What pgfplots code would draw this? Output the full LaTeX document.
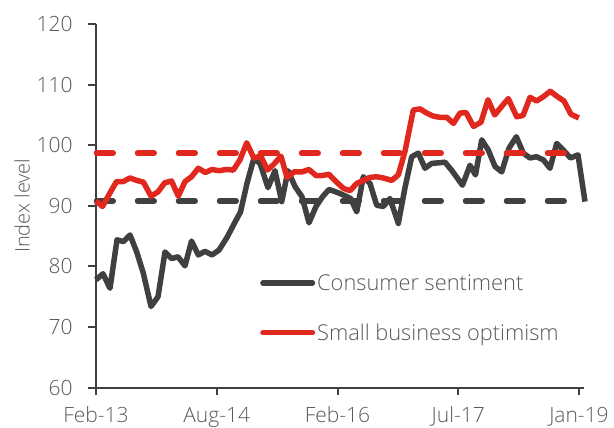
\documentclass[border=0pt]{standalone}
\usepackage{fontspec}
\setmainfont{Open Sans Light}
\usepackage{pgfplots}
\pgfplotsset{compat=1.18}
\definecolor{cdark}{HTML}{404040}
\definecolor{cred}{HTML}{E0281E}
\definecolor{ctext}{HTML}{595959}
\begin{document}
\begin{tikzpicture}[x=1pt,y=1pt]
\useasboundingbox (0,0) rectangle (614,428);
\begin{axis}[
  at={(96pt,40.3pt)}, anchor=south west,
  scale only axis, width=488pt, height=363.7pt,
  xmin=96, xmax=584, ymin=60, ymax=120,
  clip=false,
  axis lines*=left,
  axis line style={cdark, line width=2pt, -},
  tick align=outside, major tick length=7.5pt,
  tick style={cdark, line width=2pt},
  xtick={96,216.75,337.5,458.25,579},
  xticklabels={Feb-13,Aug-14,Feb-16,Jul-17,Jan-19},
  ytick={60,70,80,90,100,110,120},
  /pgf/number format/assume math mode=true,
  tick label style={font=\fontsize{21}{21}\selectfont, text=ctext},
  xticklabel style={anchor=base, yshift=-27pt},
  yticklabel style={anchor=east, inner xsep=0pt, xshift=-15.8pt},
  ylabel={Index level},
  ylabel style={at={(axis description cs:-0.1516,0.5)}, anchor=center, font=\fontsize{20}{20}\selectfont, text=ctext},
  legend image code/.code={\draw[#1, line cap=round] (0pt,0pt) -- (49.5pt,0pt);},
  legend cell align=left,
  legend style={at={(axis cs:260,73.15)}, anchor=west, draw=none, fill=none, inner sep=0pt,
    row sep=32pt, font=\fontsize{21.8}{21.8}\selectfont, text=ctext,
    nodes={inner sep=0pt, inner xsep=2pt}},
]
\addplot[cdark, line width=5.5pt, line join=round] coordinates {
(96,77.8) (103,78.8) (110,76.4) (117,84.4) (123.3,84.1) (130,85.2) (136.7,82.4) (143.3,78.9) (151,73.4) (158,75.0) (165,82.4) (171.7,81.3) (178,81.6) (185,80.1) (191.5,84.2) (198.3,81.9) (205,82.5) (212,81.9) (219,82.7) (227,84.8) (234,87.0) (240.5,89.0) (247,93.7) (253.8,97.8) (260,97.0) (268,93.0) (275,95.8) (281.7,90.7) (288,95.8) (295,93.2) (302,91.5) (309,87.2) (316,89.9) (322.5,91.5) (329,92.7) (336,92.3) (343.3,91.8) (350.7,91.2) (356.7,89.0) (363.3,94.8) (370,93.7) (376.7,90.1) (383.3,89.9) (390,91.2) (398.3,87.1) (405,93.0) (411.7,98.1) (418.3,98.7) (425,96.2) (431.7,97.0) (438.5,97.1) (445,97.2) (452,95.8) (462.5,93.4) (470,96.7) (475.5,95.1) (481.7,100.9) (488.3,99.2) (495,96.5) (501.7,95.6) (509,99.5) (516.3,101.4) (523.3,98.7) (530,97.9) (536.5,98.1) (543.3,97.6) (550,96.2) (556.7,100.3) (563.3,99.2) (570.5,97.9) (578,98.4) (585,90.7)
};
\addlegendentry{Consumer sentiment}
\addplot[cdark, line width=5.5pt, line cap=round, dash pattern=on 16.7pt off 24.3pt, forget plot] coordinates {(96.5,90.8) (572,90.8)};
\addplot[cred, line width=5.5pt, line join=round] coordinates {
(96,90.8) (102.5,89.9) (109.5,92.0) (116.5,94.0) (123,94.0) (130,94.6) (136.7,94.2) (143.5,93.9) (151,91.6) (158,92.3) (164.7,93.8) (171.5,94.1) (178.3,91.6) (185,94.0) (191.5,94.8) (198.3,96.2) (205.3,95.5) (212,96.0) (219,95.8) (226.7,96.0) (233.3,95.9) (240,97.6) (246.7,100.4) (253.8,97.9) (260.8,98.2) (267.5,95.9) (274,96.9) (281,98.2) (287,94.7) (294,95.6) (302,95.6) (309,96.0) (316,95.0) (322,95.0) (329,95.2) (336,94.0) (343.3,92.9) (350,92.5) (356.7,93.7) (363.3,94.2) (370,94.7) (376.7,94.8) (383.3,94.6) (391.7,94.2) (398.3,95.1) (405,99.0) (413.3,105.8) (420,106.0) (426.7,105.3) (433.3,104.8) (440,104.6) (446.7,104.6) (453.5,103.6) (460,105.3) (466,105.4) (473.5,103.1) (481,103.8) (488,107.5) (494.7,105.0) (501.7,106.4) (508.3,107.7) (516.7,104.7) (523,104.9) (530,107.9) (536.7,107.3) (543.3,108.0) (550.3,108.9) (557.5,108.0) (564,107.3) (571,105.1) (578.8,104.5)
};
\addlegendentry{Small business optimism}
\addplot[cred, line width=5.5pt, line cap=round, dash pattern=on 16.7pt off 24.3pt, forget plot] coordinates {(96.5,98.7) (572,98.7)};
\end{axis}
\end{tikzpicture}
\end{document}
